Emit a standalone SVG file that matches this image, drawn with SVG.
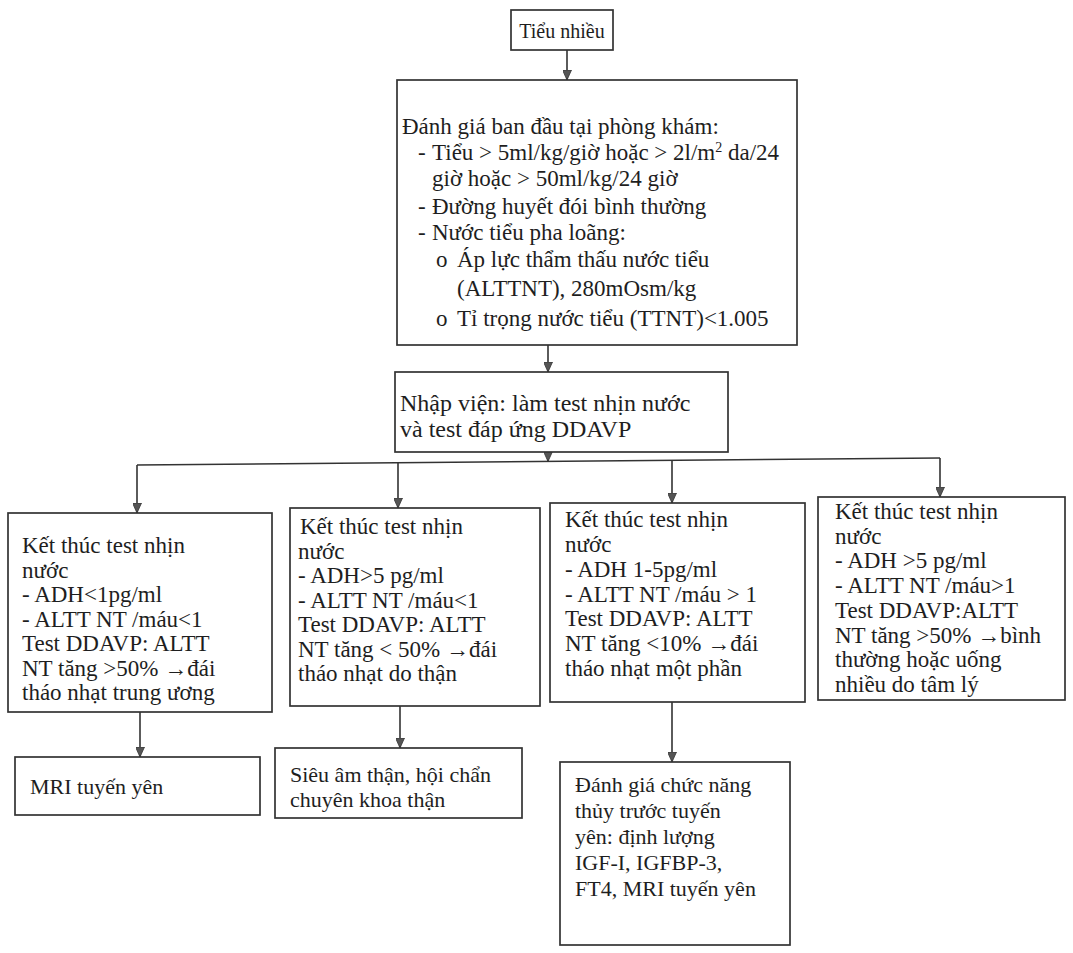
<svg xmlns="http://www.w3.org/2000/svg" width="1073" height="953" viewBox="0 0 1073 953">
<defs>
<marker id="ah" markerUnits="userSpaceOnUse" markerWidth="10" markerHeight="9" viewBox="0 0 10 9" refX="10" refY="4.5" orient="auto">
<path d="M0,0 L10,4.5 L0,9 Z" fill="#555" stroke="#333" stroke-width="0.8"/>
</marker>
<style>
.box{fill:#fff;stroke:#333;stroke-width:1.7}
.t{font-family:"Liberation Serif","Times New Roman","DejaVu Serif",serif;fill:#1e1e1e}
.f20{font-size:20px}
.f22{font-size:22px}
.f23{font-size:23px}
.f24{font-size:24px}
.c{stroke:#333;stroke-width:1.6;fill:none}
.a{stroke:#333;stroke-width:1.6;fill:none;marker-end:url(#ah)}
</style>
</defs>
<rect width="1073" height="953" fill="#fff"/>
<g id="connectors">
<line class="a" x1="567" y1="50" x2="567" y2="80"/>
<line class="a" x1="548" y1="345" x2="548" y2="372"/>
<line class="a" x1="548" y1="452" x2="548" y2="461.5"/>
<line class="c" x1="137" y1="465" x2="940" y2="458"/>
<line class="a" x1="137" y1="465" x2="137" y2="513"/>
<line class="a" x1="398" y1="462.7" x2="398" y2="508"/>
<line class="a" x1="672" y1="460.3" x2="672" y2="503"/>
<line class="a" x1="940" y1="458" x2="940" y2="497"/>
<line class="a" x1="140" y1="712" x2="140" y2="757"/>
<line class="a" x1="400" y1="706" x2="400" y2="748"/>
<line class="a" x1="672" y1="702" x2="672" y2="762"/>
</g>
<g id="n-tieu-nhieu">
<rect class="box" x="511" y="10" width="102" height="40"/>
<text class="t f20" x="562" y="38" text-anchor="middle">Tiểu nhiều</text>
</g>
<g id="n-danh-gia">
<rect class="box" x="397" y="80" width="400" height="265"/>
<text class="t f23" x="402" y="134">Đánh giá ban đầu tại phòng khám:</text>
<text class="t f23" x="418" y="160">-</text>
<text class="t f23" x="432" y="160">Tiểu &gt; 5ml/kg/giờ hoặc &gt; 2l/m<tspan font-size="14" dy="-8">2</tspan><tspan dy="8"> da/24</tspan></text>
<text class="t f23" x="432" y="186">giờ hoặc &gt; 50ml/kg/24 giờ</text>
<text class="t f23" x="418" y="214">-</text>
<text class="t f23" x="432" y="214">Đường huyết đói bình thường</text>
<text class="t f23" x="418" y="240">-</text>
<text class="t f23" x="432" y="240">Nước tiểu pha loãng:</text>
<text class="t f23" x="436" y="267">o</text>
<text class="t f23" x="457" y="267">Áp lực thẩm thấu nước tiểu</text>
<text class="t f23" x="457" y="296">(ALTTNT), 280mOsm/kg</text>
<text class="t f23" x="436" y="326">o</text>
<text class="t f23" x="457" y="326">Tỉ trọng nước tiểu (TTNT)&lt;1.005</text>
</g>
<g id="n-nhap-vien">
<rect class="box" x="395" y="372" width="333" height="80"/>
<text class="t f24" x="400" y="411">Nhập viện: làm test nhịn nước</text>
<text class="t f24" x="400" y="437">và test đáp ứng DDAVP</text>
</g>
<g id="n-trung-uong">
<rect class="box" x="8" y="513" width="264" height="199"/>
<text class="t f23" x="22" y="553">Kết thúc test nhịn</text>
<text class="t f23" x="22" y="577.5">nước</text>
<text class="t f23" x="22" y="602">- ADH&lt;1pg/ml</text>
<text class="t f23" x="22" y="626.5">- ALTT NT /máu&lt;1</text>
<text class="t f23" x="22" y="651">Test DDAVP: ALTT</text>
<text class="t f23" x="22" y="675.5">NT tăng &gt;50% →đái</text>
<text class="t f23" x="22" y="700">tháo nhạt trung ương</text>
</g>
<g id="n-do-than">
<rect class="box" x="290" y="508" width="250" height="198"/>
<text class="t f23" x="300" y="534">Kết thúc test nhịn</text>
<text class="t f23" x="298" y="558.5">nước</text>
<text class="t f23" x="298" y="583">- ADH&gt;5 pg/ml</text>
<text class="t f23" x="298" y="607.5">- ALTT NT /máu&lt;1</text>
<text class="t f23" x="298" y="632">Test DDAVP: ALTT</text>
<text class="t f23" x="298" y="656.5">NT tăng &lt; 50% →đái</text>
<text class="t f23" x="298" y="681">tháo nhạt do thận</text>
</g>
<g id="n-mot-phan">
<rect class="box" x="550" y="503" width="255" height="199"/>
<text class="t f23" x="565" y="527">Kết thúc test nhịn</text>
<text class="t f23" x="565" y="552">nước</text>
<text class="t f23" x="565" y="577">- ADH 1-5pg/ml</text>
<text class="t f23" x="565" y="601.5">- ALTT NT /máu &gt; 1</text>
<text class="t f23" x="565" y="626">Test DDAVP: ALTT</text>
<text class="t f23" x="565" y="651">NT tăng &lt;10% →đái</text>
<text class="t f23" x="565" y="676">tháo nhạt một phần</text>
</g>
<g id="n-tam-ly">
<rect class="box" x="818" y="497" width="247" height="203"/>
<text class="t f23" x="835" y="519">Kết thúc test nhịn</text>
<text class="t f23" x="835" y="543.7">nước</text>
<text class="t f23" x="835" y="568.4">- ADH &gt;5 pg/ml</text>
<text class="t f23" x="835" y="593.1">- ALTT NT /máu&gt;1</text>
<text class="t f23" x="835" y="617.8">Test DDAVP:ALTT</text>
<text class="t f23" x="835" y="642.5">NT tăng &gt;50% →bình</text>
<text class="t f23" x="835" y="667.2">thường hoặc uống</text>
<text class="t f23" x="835" y="692">nhiều do tâm lý</text>
</g>
<g id="n-mri">
<rect class="box" x="15" y="757" width="245" height="58"/>
<text class="t f22" x="30" y="794">MRI tuyến yên</text>
</g>
<g id="n-sieu-am">
<rect class="box" x="275" y="748" width="247" height="70"/>
<text class="t f22" x="290" y="782">Siêu âm thận, hội chẩn</text>
<text class="t f22" x="290" y="807">chuyên khoa thận</text>
</g>
<g id="n-tuyen-yen">
<rect class="box" x="560" y="762" width="230" height="183"/>
<text class="t f22" x="575" y="792">Đánh giá chức năng</text>
<text class="t f22" x="575" y="818">thủy trước tuyến</text>
<text class="t f22" x="575" y="844">yên: định lượng</text>
<text class="t f22" x="575" y="870">IGF-I, IGFBP-3,</text>
<text class="t f22" x="575" y="896">FT4, MRI tuyến yên</text>
</g>
</svg>
